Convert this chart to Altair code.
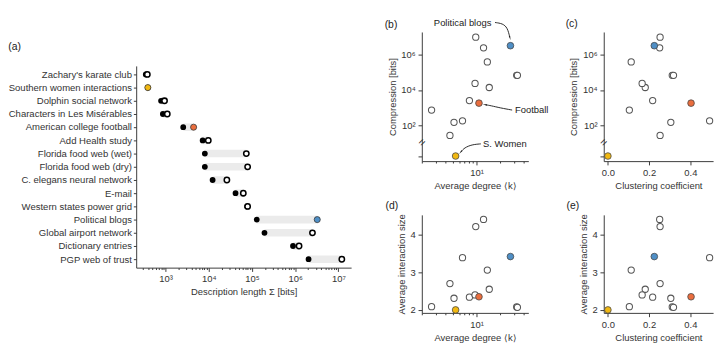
import altair as alt
import pandas as pd

# ---------------- data ----------------
networks = [
    "Zachary's karate club", "Southern women interactions", "Dolphin social network",
    "Characters in Les Misérables", "American college football", "Add Health  study",
    "Florida food web (wet)", "Florida food web (dry)", "C. elegans neural network",
    "E-mail", "Western states power grid", "Political blogs", "Global airport network",
    "Dictionary entries", "PGP web of trust",
]
# description length of the pairwise model (black dots) [bits]
sigma_pairwise = [350, 390, 790, 870, 2570, 7240, 8130, 8130, 12300, 41700, 77600,
                  129000, 195000, 891000, 2040000]
# description length of the hypergraph model (open / coloured dots) [bits]
sigma_hyper = [380, 390, 950, 1100, 4470, 9770, 74100, 79400, 26300, 63100, 79400,
               3240000, 2510000, 1230000, 12000000]
avg_degree = [4.54, 5.37, 5.12, 6.58, 10.7, 8.07, 32.6, 33.3, 14.5, 9.53, 2.64,
              27.1, 12.25, 13.7, 9.73]
clustering = [0.253, 0.0, 0.305, 0.493, 0.403, 0.217, 0.312, 0.318, 0.181, 0.166,
              0.104, 0.225, 0.251, 0.113, 0.253]
compression = [27, 0, 150, 182, 1830, 2560, 69000, 69000, 14100, 24200, 743,
               3330000, 2530000, 400000, 10200000]
interaction_size = [2.70, 2.00, 2.31, 3.39, 2.35, 2.34, 2.08, 2.07, 2.55, 2.40,
                    2.085, 3.42, 4.41, 3.06, 4.22]
highlight = ["none", "women", "none", "none", "football", "none", "none", "none",
             "none", "none", "none", "blogs", "none", "none", "none"]

hl_domain = ["none", "women", "football", "blogs"]
hl_colors = ["#ffffff", "#f1b812", "#ea6e3e", "#4f8fc6"]

# annotations of panel (b): <k>, log10(compression)
ann_text = ["Political blogs", "Football", "S. Women"]
ann_k = [6.6, 31.0, 12.05]
ann_ce = [7.82, 2.87, 0.95]
ann_align = ["center", "left", "left"]

arrow_id = ["pb"] * 4 + ["fb"] * 4 + ["sw"] * 4
arrow_i = [0, 1, 2, 3] * 3
arrow_k = [17.2, 21.5, 24.8, 26.6, 28.5, 20.1, 15.2, 13.0, 11.3, 8.7, 6.95, 6.3]
arrow_ce = [7.84, 7.78, 7.55, 7.0, 2.87, 2.99, 3.12, 3.17, 0.95, 0.91, 0.73, 0.5]
head_k = [26.6, 13.0, 6.3]
head_ce = [7.0, 3.17, 0.5]
head_angle = [165, 279, 220]

BREAK_POS = 0.26      # where zero compression is drawn below the axis break
BREAK_MARK = 1.04     # position of the break symbol

sup = {1: "¹", 2: "²", 3: "³", 4: "⁴", 5: "⁵", 6: "⁶", 7: "⁷"}

df = pd.DataFrame({
    "network": networks, "pair": sigma_pairwise, "hyper": sigma_hyper,
    "k": avg_degree, "clust": clustering, "comp": compression,
    "isize": interaction_size, "hl": highlight,
})
hl_scale = alt.Scale(domain=hl_domain, range=hl_colors)

INK = "#333333"

# ---------------- panel (a) ----------------
a_major = [1000, 10000, 100000, 1000000, 10000000]
a_ticks = [m * 10 ** d for d in range(2, 8) for m in range(1, 10)
           if 210 <= m * 10 ** d <= 1.97e7]
a_label = "".join(f"datum.value == {v} ? '10{sup[len(str(v)) - 1]}' : " for v in a_major) + "''"
scale_a = alt.Scale(type="log", domain=[210, 1.97e7], nice=False)
axis_a = alt.Axis(
    title="Description length Σ [bits]", values=a_ticks, labelExpr=a_label,
    labelOverlap=False, labelFlush=False,
    tickSize={"condition": {"test": f"indexof({a_major}, datum.value) >= 0", "value": 4},
              "value": 2},
)
Y_a = alt.Y("network:N", sort=networks, scale=alt.Scale(type="point", padding=0.64),
            axis=alt.Axis(title=None, labelFontSize=10.1, labelPadding=2, tickSize=3))
X_pair = alt.X("pair:Q", scale=scale_a, axis=axis_a)
X_hyper = alt.X("hyper:Q", scale=scale_a, axis=axis_a)

a_band = alt.Chart(df).mark_rule(strokeWidth=8, color="#ebebeb", strokeCap="butt").encode(
    x=X_pair, x2="hyper:Q", y=Y_a)
a_black = alt.Chart(df).mark_circle(size=38, color="#000000", opacity=1).encode(x=X_pair, y=Y_a)
a_white = alt.Chart(df).transform_filter("datum.hl == 'none'").mark_circle(
    size=32, fill="#ffffff", stroke="#000000", strokeWidth=1.6, opacity=1).encode(x=X_hyper, y=Y_a)
a_col = alt.Chart(df).transform_filter("datum.hl != 'none'").mark_circle(
    size=42, stroke="#333333", strokeWidth=0.8, opacity=1).encode(
    x=X_hyper, y=Y_a, fill=alt.Fill("hl:N", scale=hl_scale, legend=None))

panel_a = alt.layer(a_band, a_black, a_white, a_col).properties(
    width=228, height=214,
    title=alt.TitleParams("(a)", offset=15, anchor="start"),
)

# invisible spacer that pushes panel (a) down below the top of panel (b)
spacer = alt.Chart(pd.DataFrame({"v": [0]})).mark_point(size=1, opacity=0).encode(
    x=alt.X("v:Q", axis=None, scale=alt.Scale(domain=[-1, 1])),
    y=alt.Y("v:Q", axis=None, scale=alt.Scale(domain=[-1, 1])),
).properties(width=1, height=8)
left = alt.vconcat(spacer, panel_a, spacing=2)

# ---------------- shared scales / axes for (b)-(e) ----------------
k_ticks = [2, 3, 4, 5, 6, 7, 8, 9, 10, 20, 30, 40]
scale_k = alt.Scale(type="log", domain=[1.98, 46], nice=False)
axis_k = alt.Axis(title="Average degree ⟨k⟩", values=k_ticks,
                  labelExpr="datum.value == 10 ? '10¹' : ''", labelOverlap=False,
                  tickSize={"condition": {"test": "datum.value == 10", "value": 4}, "value": 2})
scale_c = alt.Scale(domain=[-0.02, 0.51], nice=False, zero=False)
axis_c = alt.Axis(title="Clustering coefficient", values=[0, 0.2, 0.4], format=".1f")

scale_ce = alt.Scale(domain=[-0.03, 7.3], nice=False, zero=False)
ce_label = "".join(f"datum.value == {e} ? '10{sup[e]}' : " for e in [2, 4, 6]) + "''"
axis_ce = alt.Axis(title="Compression [bits]", values=[BREAK_POS, 2, 4, 6], labelExpr=ce_label,
                   labelOverlap=False)
scale_is = alt.Scale(domain=[1.92, 4.53], nice=False, zero=False)
axis_is = alt.Axis(title="Average interaction size", values=[2, 3, 4], format="d")

X_k = alt.X("k:Q", scale=scale_k, axis=axis_k)
X_c = alt.X("clust:Q", scale=scale_c, axis=axis_c)
Y_ce = alt.Y("ce:Q", scale=scale_ce, axis=axis_ce)
Y_is = alt.Y("isize:Q", scale=scale_is, axis=axis_is)

ce_calc = f"datum.comp > 0 ? log(datum.comp) / LN10 : {BREAK_POS}"


def scatter(xenc, yenc, calc=False):
    base = alt.Chart(df)
    if calc:
        base = base.transform_calculate(ce=ce_calc)
    white = base.transform_filter("datum.hl == 'none'").mark_circle(
        size=44, fill="#ffffff", stroke="#555555", strokeWidth=1.1, opacity=1).encode(x=xenc, y=yenc)
    col = base.transform_filter("datum.hl != 'none'").mark_circle(
        size=50, stroke="#444444", strokeWidth=0.8, opacity=1).encode(
        x=xenc, y=yenc, fill=alt.Fill("hl:N", scale=hl_scale, legend=None))
    return [white, col]


def break_mark(xfield, xval, xenc):
    d = pd.DataFrame({xfield: [xval], "ce": [BREAK_MARK]})
    return alt.Chart(d).mark_text(text="=", angle=315, fontSize=12, color=INK).encode(x=xenc, y=Y_ce)


# annotations of (b)
ann_df = pd.DataFrame({"k": ann_k, "ce": ann_ce, "t": ann_text, "al": ann_align})
arrow_df = pd.DataFrame({"id": arrow_id, "i": arrow_i, "k": arrow_k, "ce": arrow_ce})
head_df = pd.DataFrame({"k": head_k, "ce": head_ce, "ang": head_angle})

ann_center = alt.Chart(ann_df).transform_filter("datum.al == 'center'").mark_text(
    fontSize=10, color="#222222", align="center", baseline="middle").encode(x=X_k, y=Y_ce, text="t:N")
ann_left = alt.Chart(ann_df).transform_filter("datum.al == 'left'").mark_text(
    fontSize=10, color="#222222", align="left", baseline="middle").encode(x=X_k, y=Y_ce, text="t:N")
arrows = alt.Chart(arrow_df).mark_line(color="#222222", strokeWidth=1, interpolate="basis").encode(
    x=X_k, y=Y_ce, detail="id:N", order=alt.Order("i:Q"))
heads = alt.Chart(head_df).mark_point(shape="wedge", filled=True, size=30, color="#222222",
                                      opacity=1).encode(
    x=X_k, y=Y_ce, angle=alt.Angle("ang:Q", scale=None))

panel_b = alt.layer(
    *scatter(X_k, Y_ce, calc=True), break_mark("k", 1.98, X_k),
    arrows, heads, ann_center, ann_left,
).properties(width=113, height=137, title=alt.TitleParams("(b)", dx=-3, offset=-13))

panel_c = alt.layer(
    *scatter(X_c, Y_ce, calc=True), break_mark("clust", -0.02, X_c),
).properties(width=116, height=137, title=alt.TitleParams("(c)", dx=-4, offset=3))

panel_d = alt.layer(*scatter(X_k, Y_is)).properties(
    width=113, height=104, title=alt.TitleParams("(d)", dx=-12, offset=3))
panel_e = alt.layer(*scatter(X_c, Y_is)).properties(
    width=116, height=104, title=alt.TitleParams("(e)", dx=-13, offset=3))

grid = alt.concat(panel_b, panel_c, panel_d, panel_e, columns=2,
                  spacing={"row": 57, "column": 80}, bounds="flush")

chart = alt.hconcat(left, grid, spacing=35).properties(padding=0).configure(
    font="Liberation Sans"
).configure_axis(
    labelFontSize=10, titleFontSize=10, titleFontWeight="normal", labelColor=INK,
    titleColor=INK, domainColor=INK, tickColor=INK, grid=False, tickSize=4,
    labelPadding=3, titlePadding=4,
).configure_title(
    fontSize=11, fontWeight="normal", anchor="start", color="#222222",
).configure_view(stroke=None)

chart.save("out.html", embed_options={"renderer": "svg", "actions": False})
